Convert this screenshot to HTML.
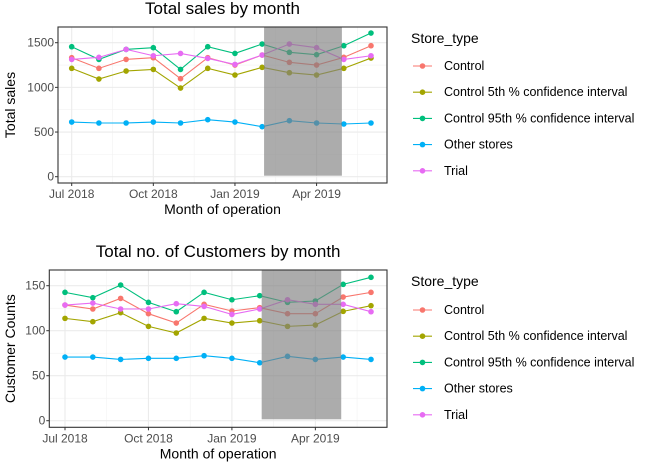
<!DOCTYPE html>
<html><head><meta charset="utf-8"><style>
body{margin:0;background:#fff;font-family:"Liberation Sans",Arial,sans-serif}
svg{display:block}
</style></head><body>
<svg id="c" width="652" height="470" viewBox="0 0 652 470"></svg>
<script>
const months = ["Jul 2018","Aug 2018","Sep 2018","Oct 2018","Nov 2018","Dec 2018","Jan 2019","Feb 2019","Mar 2019","Apr 2019","May 2019","Jun 2019"];
const seriesNames = ["Control","Control 5th % confidence interval","Control 95th % confidence interval","Other stores","Trial"];
const seriesColors = ["#F8766D","#A3A500","#00BF7D","#00B0F6","#E76BF3"];
const xTickLabels = ["Jul 2018","Oct 2018","Jan 2019","Apr 2019"];
const xTickIdx = [0,3,6,9];
const salesControl = [1332,1213,1313,1332,1097,1332,1250,1362,1280,1250,1336,1466];
const salesCtrl5 = [1213,1093,1183,1201,992,1213,1138,1224,1164,1138,1213,1328];
const salesCtrl95 = [1455,1313,1425,1444,1201,1455,1380,1485,1392,1366,1466,1608];
const salesOther = [612,601,601,612,601,638,612,560,627,601,590,601];
const salesTrial = [1313,1336,1425,1354,1380,1324,1257,1362,1485,1444,1313,1354];
const salesTicks = [0,500,1000,1500];
const custControl = [128.5,124.1,135.9,118.9,108.5,129.3,121.9,125.6,118.9,118.9,137.4,142.6];
const custCtrl5 = [113.7,110,120,104.8,97.4,113.7,108.5,111.1,104.8,106.3,121.5,127.8];
const custCtrl95 = [142.6,136.7,150.7,131.5,121.1,142.6,134.4,138.9,131.5,133,151.5,159.3];
const custOther = [70.7,70.7,68.1,69.3,69.3,72.2,69.3,64.4,71.5,68.1,70.7,68.1];
const custTrial = [128.5,130.7,124.1,124.1,130,127,118.1,124.1,134.4,129.3,129.3,121.1];
const custTicks = [0,50,100,150];
const shadeStart = 7.07, shadeEnd = 9.93;

const NS="http://www.w3.org/2000/svg";
const svg=document.getElementById('c');
function mk(tag,attrs,parent,text){const e=document.createElementNS(NS,tag);for(const k in attrs)e.setAttribute(k,attrs[k]);if(text!=null)e.textContent=text;(parent||svg).appendChild(e);return e;}

function chart(cfg){
  const g=mk('g',{});
  
  
  const {L,R,T,B,x0,x11,y0px,ytopVal,ytopPx,shadeTop,shadeBot}=cfg;
  const xs=i=>x0+(x11-x0)*i/11;
  const ys=v=>y0px-(y0px-ytopPx)*v/ytopVal;
  for(let i=0;i<cfg.ticks.length-1;i++){const v=(cfg.ticks[i]+cfg.ticks[i+1])/2;mk('line',{x1:L,x2:R,y1:ys(v),y2:ys(v),stroke:'#f2f2f2','stroke-width':0.6},g);}
  for(let i=0;i<xTickIdx.length;i++){const xi=xTickIdx[i]+1.5;if(xs(xi)<R)mk('line',{x1:xs(xi),x2:xs(xi),y1:T,y2:B,stroke:'#f2f2f2','stroke-width':0.6},g);}
  cfg.ticks.forEach(v=>{mk('line',{x1:L,x2:R,y1:ys(v),y2:ys(v),stroke:'#ebebeb','stroke-width':1.1},g);
    const t=mk('text',{x:L-4,y:ys(v)+4,'text-anchor':'end','font-size':12,fill:'#4d4d4d'},g,String(v));
    
    mk('line',{x1:L-3,x2:L,y1:ys(v),y2:ys(v),stroke:'#333','stroke-width':1},g);});
  xTickIdx.forEach((xi,k)=>{mk('line',{x1:xs(xi),x2:xs(xi),y1:T,y2:B,stroke:'#ebebeb','stroke-width':1.1},g);
    mk('line',{x1:xs(xi),x2:xs(xi),y1:B,y2:B+3,stroke:'#333'},g);
    const t=mk('text',{x:xs(xi),y:B+15,'text-anchor':'middle','font-size':12,fill:'#4d4d4d'},g,xTickLabels[k]);
    });
  const series=cfg.series;
  series.forEach((arr,s)=>{
    const p=mk('polyline',{points:arr.map((v,i)=>xs(i)+','+ys(v)).join(' '),fill:'none',stroke:seriesColors[s],'stroke-width':1.1},g);
    
    arr.forEach((v,i)=>{const c=mk('circle',{cx:xs(i),cy:ys(v),r:2.8,fill:seriesColors[s]},g);
      });
  });
  const sh=mk('rect',{x:xs(shadeStart),y:shadeTop,width:xs(shadeEnd)-xs(shadeStart),height:shadeBot-shadeTop,fill:'#7f7f7f','fill-opacity':0.65},g);
  
  mk('rect',{x:L,y:T,width:R-L,height:B-T,fill:'none',stroke:'#333','stroke-width':1.1},g);
  const tt=mk('text',{x:(L+R)/2,y:cfg.titleY,'text-anchor':'middle','font-size':17,fill:'#000'},g,cfg.title);
  
  const xt=mk('text',{x:(L+R)/2,y:B+31,'text-anchor':'middle','font-size':14,fill:'#000'},g,'Month of operation');
  
  const yt=mk('text',{x:0,y:0,'text-anchor':'middle','font-size':14,fill:'#000',transform:`translate(${cfg.yTitleX},${(T+B)/2}) rotate(-90)`},g,cfg.yTitle);
  
  const lg=mk('g',{},g);
  
  mk('text',{x:411,y:cfg.legTitleY,'font-size':14,fill:'#000'},lg,'Store_type');
  seriesNames.forEach((n,s)=>{const y=cfg.legY0+s*26.2;
    const e=mk('g',{},lg);
    mk('line',{x1:413,x2:432,y1:y,y2:y,stroke:seriesColors[s],'stroke-width':1.1},e);
    mk('circle',{cx:422.5,cy:y,r:2.8,fill:seriesColors[s]},e);
    mk('text',{x:444,y:y+4,'font-size':12.5,fill:'#000'},e,n);});
}
chart({name:'sales-chart',title:'Total sales by month',titleY:14,yTitle:'Total sales',yTitleX:15,L:58,R:387,T:27,B:183,x0:71.7,x11:371,y0px:176.7,ytopVal:1500,ytopPx:42.7,shadeTop:27.5,shadeBot:175.7,ticks:salesTicks,
  series:[salesControl,salesCtrl5,salesCtrl95,salesOther,salesTrial],legTitleY:43,legY0:66});
chart({name:'customers-chart',title:'Total no. of Customers by month',titleY:257,yTitle:'Customer Counts',yTitleX:15,L:49.3,R:387,T:270,B:427.3,x0:65,x11:371,y0px:420.7,ytopVal:150,ytopPx:285.7,shadeTop:270.5,shadeBot:419.3,ticks:custTicks,
  series:[custControl,custCtrl5,custCtrl95,custOther,custTrial],legTitleY:286,legY0:310});
</script>
</body></html>
